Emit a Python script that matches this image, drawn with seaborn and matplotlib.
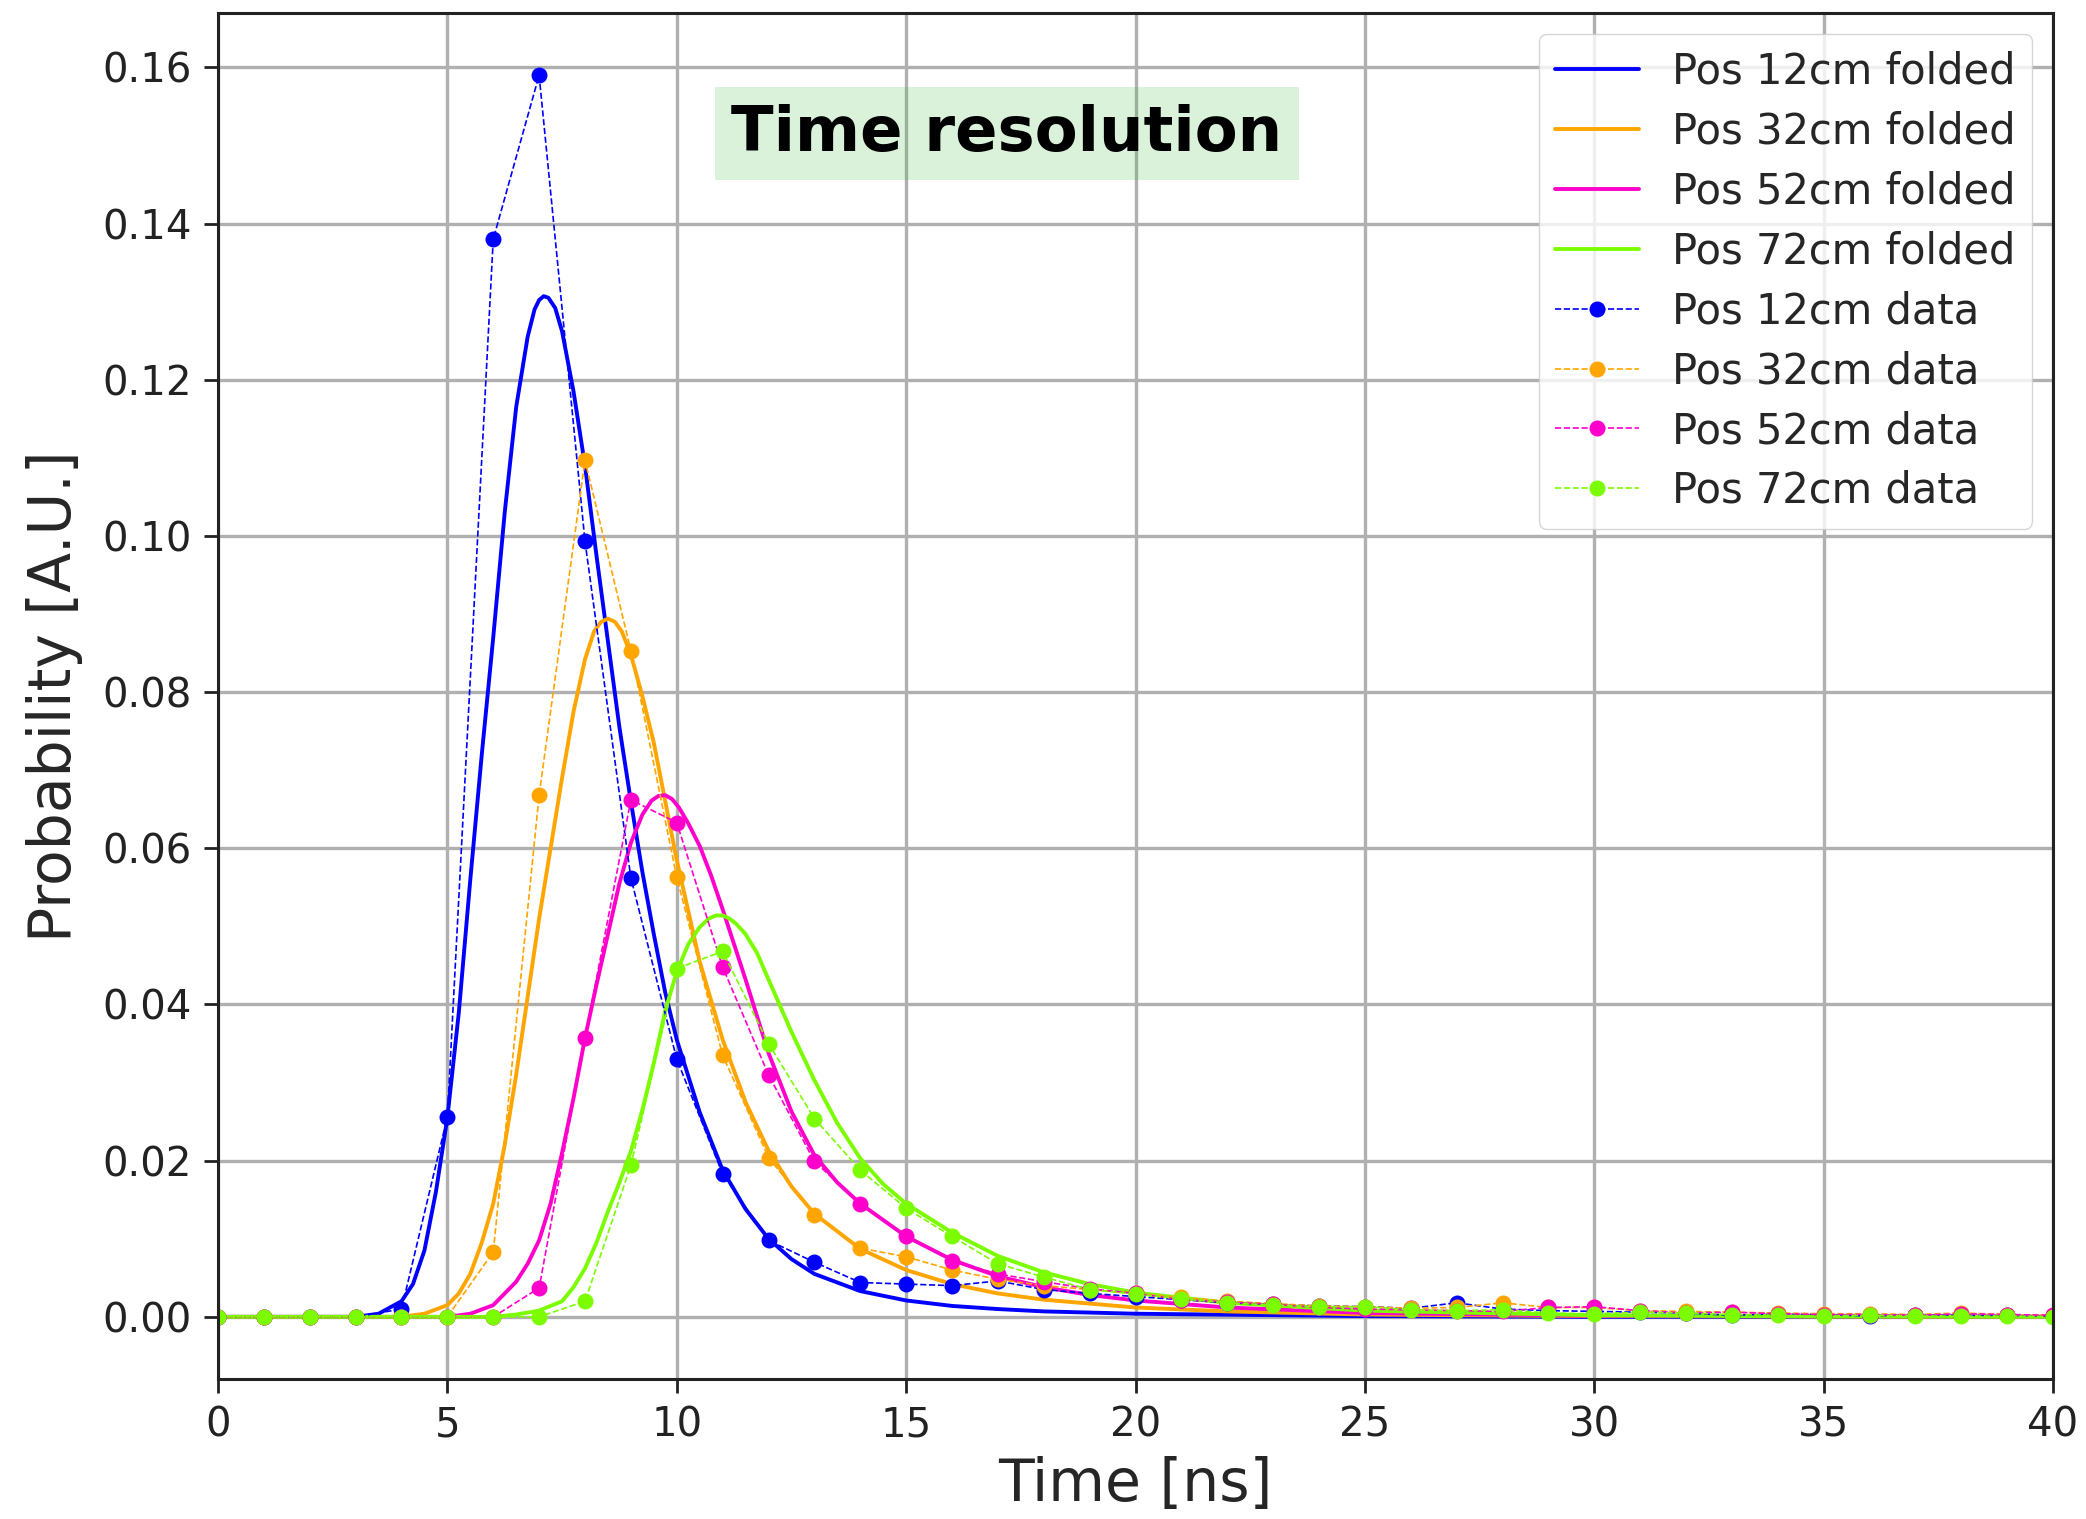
import matplotlib
matplotlib.use("Agg")
import matplotlib.pyplot as plt
import numpy as np
import seaborn as sns

# measured time bins [ns]
time_bins = np.arange(0, 41)

pos12_data = [0, 0, 0, 0, 0.0010, 0.0256, 0.1380, 0.1590, 0.0993, 0.0562,
              0.0330, 0.0183, 0.0098, 0.0070, 0.0044, 0.0042, 0.0040, 0.0046, 0.0035, 0.0030,
              0.0026, 0.0022, 0.0018, 0.0016, 0.0014, 0.0013, 0.0011, 0.0018, 0.0010, 0.0008,
              0.0007, 0.0006, 0.0005, 0.0002, 0.0004, 0.0003, 0.0001, 0.0003, 0.0002, 0.0002, 0.0001]
pos32_data = [0, 0, 0, 0, 0, 0, 0.0083, 0.0668, 0.1097, 0.0853,
              0.0563, 0.0335, 0.0204, 0.0131, 0.0088, 0.0077, 0.0060, 0.0048, 0.0040, 0.0035,
              0.0030, 0.0025, 0.0020, 0.0017, 0.0014, 0.0013, 0.0011, 0.0012, 0.0018, 0.0012,
              0.0012, 0.0008, 0.0007, 0.0006, 0.0005, 0.0004, 0.0004, 0.0003, 0.0005, 0.0003, 0.0002]
pos52_data = [0, 0, 0, 0, 0, 0, 0, 0.0037, 0.0357, 0.0662,
              0.0633, 0.0448, 0.0310, 0.0199, 0.0145, 0.0103, 0.0072, 0.0055, 0.0045, 0.0036,
              0.0030, 0.0022, 0.0019, 0.0016, 0.0012, 0.0010, 0.0009, 0.0008, 0.0007, 0.0012,
              0.0013, 0.0008, 0.0005, 0.0006, 0.0004, 0.0003, 0.0003, 0.0002, 0.0004, 0.0003, 0.0002]
pos72_data = [0, 0, 0, 0, 0, 0, 0, 0, 0.0020, 0.0194,
              0.0446, 0.0468, 0.0350, 0.0254, 0.0188, 0.0139, 0.0103, 0.0068, 0.0051, 0.0035,
              0.0029, 0.0023, 0.0018, 0.0015, 0.0013, 0.0013, 0.0009, 0.0008, 0.0009, 0.0005,
              0.0004, 0.0006, 0.0005, 0.0003, 0.0002, 0.0001, 0.0002, 0.0001, 0.0001, 0.0001, 0.0]

pos12_fold_t = [0, 3.0, 3.5, 4.0, 4.25, 4.5, 4.75, 5.0, 5.25, 5.5, 5.75, 6.0, 6.25, 6.5, 6.75,
                6.9, 7.0, 7.1, 7.2, 7.35, 7.5, 7.75, 8.0, 8.25, 8.5, 8.75, 9.0, 9.25, 9.5, 9.75,
                10.0, 10.5, 11.0, 11.5, 12.0, 12.5, 13.0, 14.0, 15.0, 16.0, 17.0, 18.0, 20.0,
                25.0, 30.0, 40.0]
pos12_fold_p = [0, 0.0, 0.0004, 0.002, 0.0042, 0.0085, 0.016, 0.0255, 0.039, 0.056, 0.072,
                0.087, 0.103, 0.1165, 0.1255, 0.1290, 0.1302, 0.1307, 0.1305, 0.1292, 0.1262,
                0.1185, 0.109, 0.0975, 0.0865, 0.0755, 0.066, 0.057, 0.049, 0.0415, 0.0355,
                0.0262, 0.0188, 0.0138, 0.0100, 0.0074, 0.0055, 0.0033, 0.0021, 0.0014, 0.0010,
                0.0007, 0.0004, 0.0001, 0.0, 0.0]

pos32_fold_t = [0, 4.0, 4.5, 5.0, 5.25, 5.5, 5.75, 6.0, 6.25, 6.5, 6.75, 7.0, 7.25, 7.5, 7.75,
                8.0, 8.2, 8.35, 8.5, 8.65, 8.8, 9.0, 9.25, 9.5, 9.75, 10.0, 10.5, 11.0, 11.5, 12.0,
                12.5, 13.0, 14.0, 15.0, 16.0, 17.0, 18.0, 20.0, 22.0, 25.0, 30.0, 40.0]
pos32_fold_p = [0, 0.0, 0.0004, 0.0015, 0.003, 0.0055, 0.0095, 0.0145, 0.022, 0.031, 0.041,
                0.051, 0.060, 0.069, 0.0775, 0.0842, 0.0878, 0.0890, 0.0894, 0.0890, 0.0878,
                0.0848, 0.0795, 0.0735, 0.066, 0.0585, 0.0455, 0.0355, 0.0275, 0.0213, 0.0167,
                0.0132, 0.0087, 0.0060, 0.0042, 0.0030, 0.0022, 0.0012, 0.0007, 0.0003, 0.0001, 0.0]

pos52_fold_t = [0, 5.0, 5.5, 6.0, 6.5, 6.75, 7.0, 7.25, 7.5, 7.75, 8.0, 8.25, 8.5, 8.75, 9.0,
                9.25, 9.45, 9.6, 9.75, 9.9, 10.05, 10.25, 10.5, 10.75, 11.0, 11.5, 12.0, 12.5,
                13.0, 13.5, 14.0, 15.0, 16.0, 17.0, 18.0, 19.0, 20.0, 22.0, 25.0, 30.0, 40.0]
pos52_fold_p = [0, 0.0, 0.0004, 0.0015, 0.0045, 0.0068, 0.0098, 0.0145, 0.021, 0.028, 0.0357,
                0.0425, 0.049, 0.0555, 0.0607, 0.0643, 0.0661, 0.0667, 0.0668, 0.0663, 0.0652,
                0.0632, 0.0603, 0.0565, 0.0522, 0.0432, 0.0338, 0.0263, 0.0207, 0.0172, 0.0145,
                0.0103, 0.0073, 0.0052, 0.0038, 0.0028, 0.0021, 0.0012, 0.0005, 0.00015, 0.0]

pos72_fold_t = [0, 6.0, 6.5, 7.0, 7.5, 7.75, 8.0, 8.25, 8.5, 8.75, 9.0, 9.25, 9.5, 9.75, 10.0,
                10.25, 10.5, 10.7, 10.85, 11.0, 11.15, 11.3, 11.5, 11.75, 12.0, 12.5, 13.0, 13.5,
                14.0, 14.5, 15.0, 16.0, 17.0, 18.0, 19.0, 20.0, 22.0, 25.0, 30.0, 35.0, 40.0]
pos72_fold_p = [0, 0.0, 0.0003, 0.0008, 0.002, 0.0038, 0.0062, 0.0095, 0.0135, 0.0172, 0.0212,
                0.0265, 0.0325, 0.0392, 0.0442, 0.0477, 0.0499, 0.0510, 0.0514, 0.0514, 0.0510,
                0.0503, 0.0490, 0.0466, 0.0432, 0.0365, 0.0303, 0.0248, 0.0203, 0.0170, 0.0145,
                0.0108, 0.0078, 0.0057, 0.0042, 0.0031, 0.0018, 0.0008, 0.0002, 0.00005, 0.0]

positions = ["12cm", "32cm", "52cm", "72cm"]
colors = ["#0000ff", "#ffa500", "#ff00cc", "#7cfc00"]

sns.set_style("ticks")
plt.rcParams['font.family'] = ['DejaVu Sans']

fig = plt.figure(figsize=(20.86, 15.19), dpi=100)
ax = fig.add_axes([0.1045, 0.0922, 0.8797, 0.8992])

folded = [(pos12_fold_t, pos12_fold_p), (pos32_fold_t, pos32_fold_p),
          (pos52_fold_t, pos52_fold_p), (pos72_fold_t, pos72_fold_p)]
measured = [pos12_data, pos32_data, pos52_data, pos72_data]

# fitted curves first, then the measured points on top
for (t, p), pos, col in zip(folded, positions, colors):
    sns.lineplot(x=t, y=p, ax=ax, color=col, linewidth=2.8, sort=False,
                 estimator=None, label="Pos " + pos + " folded")

for vals, pos, col in zip(measured, positions, colors):
    sns.lineplot(x=time_bins, y=vals, ax=ax, color=col, linewidth=1.2, linestyle="--",
                 marker="o", markersize=11.5, markeredgewidth=0, sort=False,
                 estimator=None, label="Pos " + pos + " data")

ax.set_xlim(0, 40)
ax.set_xticks(np.arange(0, 41, 5))
ax.set_yticks(np.arange(0, 0.161, 0.02))
ax.yaxis.set_major_formatter(matplotlib.ticker.FormatStrFormatter('%.2f'))
ax.margins(y=0.05)

ax.grid(True, color="#b0b0b0", linewidth=2.4)
for s in ax.spines.values():
    s.set_linewidth(2.2)
    s.set_color("#222222")
ax.tick_params(axis="both", labelsize=29, length=10, width=2, pad=9, colors="#222222")

ax.set_xlabel("Time [ns]", fontsize=42, labelpad=8)
ax.set_ylabel("Probability [A.U.]", fontsize=42, labelpad=14)

ax.text(17.2, 0.1515, "Time resolution", fontsize=45, fontweight="bold", ha="center",
        va="center", color="black",
        bbox=dict(boxstyle="square,pad=0.26", facecolor=(0.2, 0.7, 0.2),
                  alpha=0.18, edgecolor="none"))

ax.legend(loc="upper right", fontsize=30, handlelength=2.0, labelspacing=0.43,
          framealpha=0.8, edgecolor="#cccccc", fancybox=True)

fig.savefig("out.png", dpi=100)
